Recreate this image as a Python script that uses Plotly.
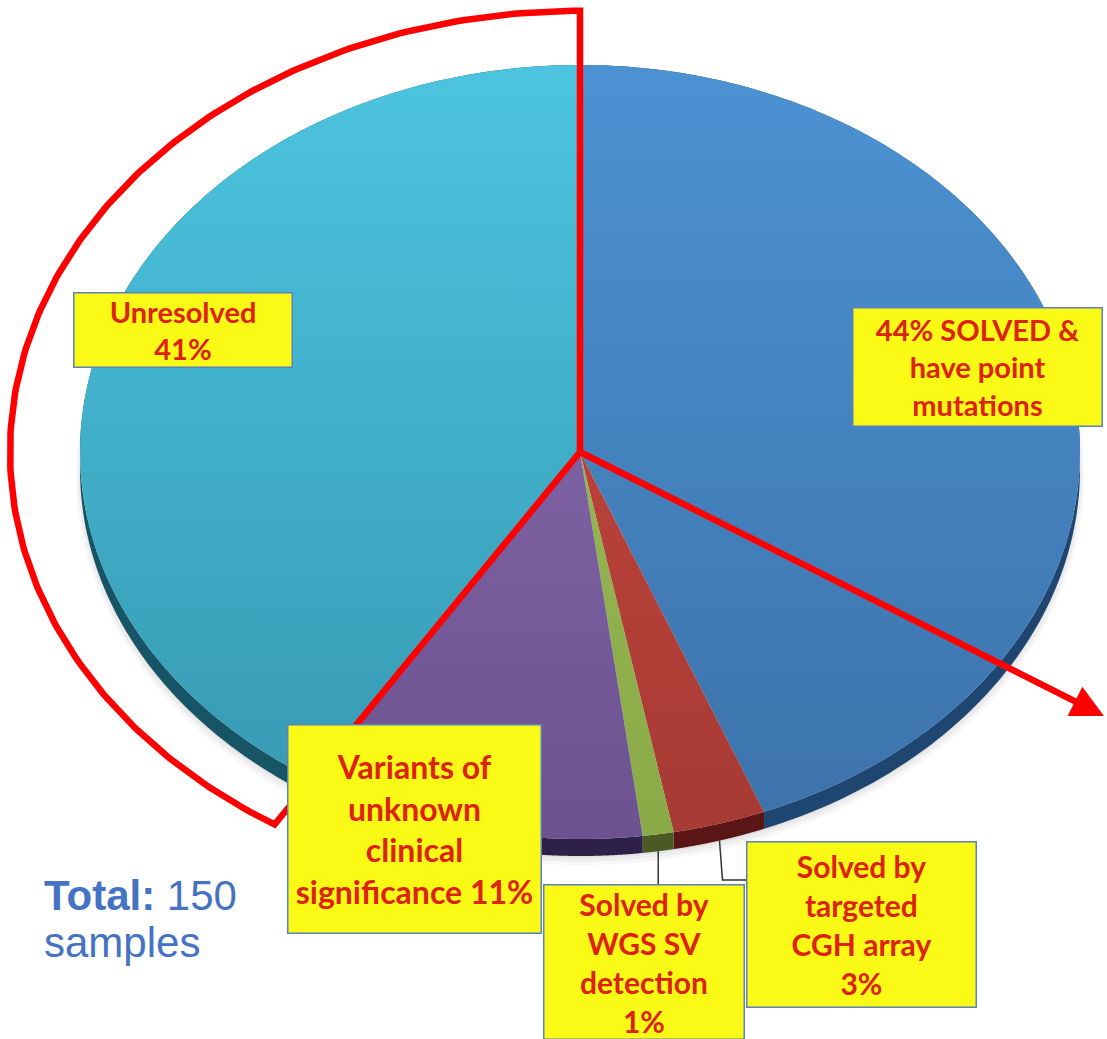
import numpy as np
import plotly.graph_objects as go

# ---- data ----
categories = [
    "Solved - point mutations",
    "Solved by targeted CGH array",
    "Solved by WGS SV detection",
    "Variants of unknown clinical significance",
    "Unresolved",
]
percent = [44, 3, 1, 11, 41]
total_samples = 150

label_texts = [
    f"{percent[0]}% SOLVED &<br>have point<br>mutations",
    f"Solved by<br>targeted<br>CGH array<br>{percent[1]}%",
    f"Solved by<br>WGS SV<br>detection<br>{percent[2]}%",
    f"Variants of<br>unknown<br>clinical<br>significance {percent[3]}%",
    f"Unresolved<br>{percent[4]}%",
]

# ---- styling ----
W, H = 1107, 1039
CX, CY, RX, RY = 580, 452, 500, 387      # pie centre / radii in pixels
DEPTH = 17 / RY                           # thickness of the 3D rim (data units)

top_colors = [("#3C72AA", "#4C92D2"), ("#A63A34", "#CC4A40"), ("#8AAA48", "#A0C05C"),
              ("#6C5290", "#8E70B4"), ("#3698B0", "#4CC4E0")]
rim_colors = ["#1F4670", "#5A1616", "#4A5A22", "#2E2048", "#175566"]

# box geometry: left, top, width, height (pixels) and font size
box_geom = [
    (852, 307, 251, 120, 29),
    (746, 841, 231, 167, 30),
    (543, 884, 202, 156, 30),
    (287, 724, 255, 210, 32),
    (73, 292, 220, 76, 29),
]


def px2x(p):
    return (p - CX) / RX


def py2y(p):
    return (CY - p) / RY


def arc(a0, a1, n=200, sx=1.0, sy=1.0, dy=0.0):
    t = np.radians(np.linspace(a0, a1, n))
    return sx * np.sin(t), sy * np.cos(t) + dy


fig = go.Figure()

# soft shadow under the pie
for k, op in enumerate([0.04, 0.05, 0.06]):
    grow = 1.0 + 0.004 * (2 - k)
    sx, sy = arc(0, 360, 400, sx=grow, sy=grow, dy=-DEPTH - (6 - 2 * k) / RY)
    fig.add_trace(go.Scatter(x=sx, y=sy, fill="toself", mode="none",
                             fillcolor=f"rgba(60,60,60,{op})", hoverinfo="skip", showlegend=False))

angles = np.concatenate([[0], np.cumsum(percent) / sum(percent) * 360])

# rim (side walls)
for i in range(len(percent)):
    a0, a1 = angles[i], angles[i + 1]
    xt, yt = arc(a0, a1)
    xb, yb = arc(a1, a0, dy=-DEPTH)
    fig.add_trace(go.Scatter(x=np.concatenate([xt, xb, xt[:1]]), y=np.concatenate([yt, yb, yt[:1]]),
                             fill="toself", mode="none", fillcolor=rim_colors[i],
                             hoverinfo="skip", showlegend=False))

# top faces
for i in range(len(percent)):
    a0, a1 = angles[i], angles[i + 1]
    xs, ys = arc(a0, a1)
    fig.add_trace(go.Scatter(
        x=np.concatenate([[0], xs, [0]]), y=np.concatenate([[0], ys, [0]]),
        fill="toself", mode="none", name=categories[i],
        fillgradient=dict(type="vertical", start=-1, stop=1,
                          colorscale=[[0, top_colors[i][0]], [1, top_colors[i][1]]]),
        hovertemplate=f"{categories[i]}: {percent[i]}%<extra></extra>", showlegend=False))

# red outline around the unresolved share
k = 1.14
ox, oy = arc(360, angles[4], 200, sx=k, sy=k)
fig.add_trace(go.Scatter(x=np.concatenate([[0], ox, [0]]), y=np.concatenate([[0], oy, [0]]),
                         mode="lines", line=dict(color="#FF0000", width=6.5),
                         hoverinfo="skip", showlegend=False))

# leader lines from the thin slices to their boxes
mid_wgs = np.radians((angles[2] + angles[3]) / 2)
lx, ly = np.sin(mid_wgs), np.cos(mid_wgs) - DEPTH
fig.add_trace(go.Scatter(x=[lx, lx], y=[ly, py2y(box_geom[2][1])], mode="lines",
                         line=dict(color="#333333", width=1.5), hoverinfo="skip", showlegend=False))
mid_cgh = np.radians((angles[1] + angles[2]) / 2)
cx2, cy2 = np.sin(mid_cgh), np.cos(mid_cgh) - DEPTH
fig.add_trace(go.Scatter(x=[cx2, cx2 + 0.006, px2x(box_geom[1][0])],
                         y=[cy2, py2y(880), py2y(880)],
                         mode="lines", line=dict(color="#333333", width=1.5),
                         hoverinfo="skip", showlegend=False))

annotations = []
# arrow pointing out to the right
annotations.append(dict(x=px2x(1104), y=py2y(716), ax=0, ay=0, xref="x", yref="y",
                        axref="x", ayref="y", showarrow=True, arrowhead=2, arrowsize=1.0,
                        arrowwidth=6.5, arrowcolor="#FF0000", text=""))

# yellow label boxes
for txt, (l, t, w, h, fs) in zip(label_texts, box_geom):
    annotations.append(dict(
        x=px2x(l), y=py2y(t), xref="x", yref="y", xanchor="left", yanchor="top",
        text=f"<b>{txt}</b>", showarrow=False, align="center", valign="middle",
        width=w - 3, height=h - 3, bgcolor="#FAFA16", bordercolor="#5B80C0",
        borderwidth=1.5, borderpad=0,
        font=dict(family="Lato", size=fs, color="#DD2208")))

# total sample count
annotations.append(dict(x=px2x(42), y=py2y(921), xref="x", yref="y", xanchor="left",
                        yanchor="bottom", showarrow=False,
                        text=f"<b>Total:</b> {total_samples}",
                        font=dict(family="Liberation Sans", size=42, color="#4472C4")))
annotations.append(dict(x=px2x(42), y=py2y(968), xref="x", yref="y", xanchor="left",
                        yanchor="bottom", showarrow=False, text="samples",
                        font=dict(family="Liberation Sans", size=42, color="#4472C4")))

fig.update_layout(
    width=W, height=H, margin=dict(l=0, r=0, t=0, b=0),
    paper_bgcolor="white", plot_bgcolor="white",
    xaxis=dict(range=[px2x(0), px2x(W)], visible=False, fixedrange=True),
    yaxis=dict(range=[py2y(H), py2y(0)], visible=False, fixedrange=True),
    annotations=annotations, showlegend=False,
)

fig.write_html("out.html")
